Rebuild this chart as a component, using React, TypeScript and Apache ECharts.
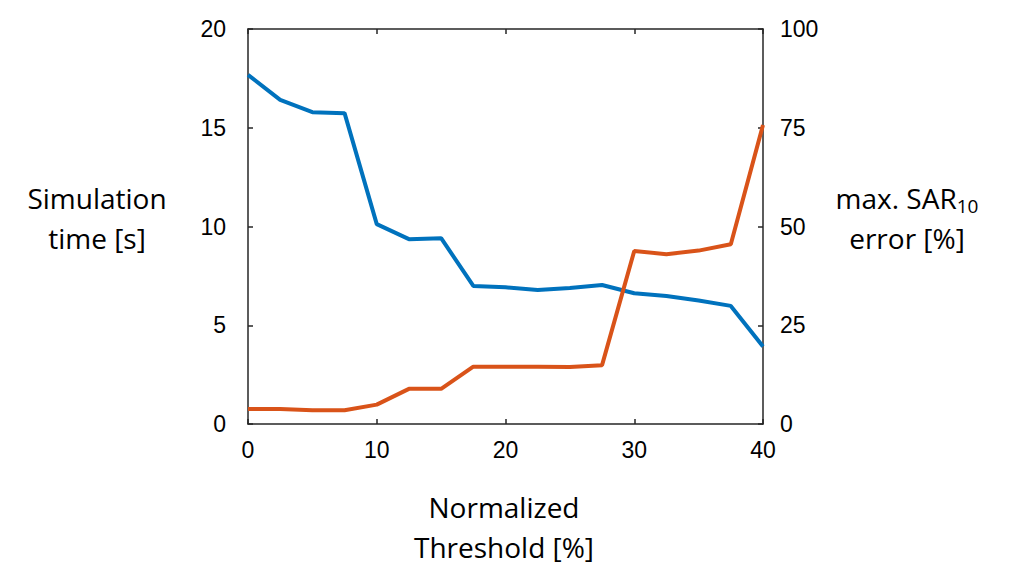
import React, { useEffect, useRef } from "react";
import * as echarts from "echarts";

const thresholds = [0, 2.5, 5, 7.5, 10, 12.5, 15, 17.5, 20, 22.5, 25, 27.5, 30, 32.5, 35, 37.5, 40];
const simTime = [17.68, 16.41, 15.79, 15.74, 10.12, 9.36, 9.41, 6.99, 6.92, 6.79, 6.89, 7.04, 6.62, 6.48, 6.25, 5.98, 3.92];
const sarError = [3.8, 3.8, 3.5, 3.5, 4.9, 8.9, 8.9, 14.5, 14.5, 14.5, 14.4, 14.9, 43.8, 43.0, 43.9, 45.5, 75.7];

export default function App() {
  const ref = useRef<HTMLDivElement>(null);
  useEffect(() => {
    const chart = echarts.init(ref.current!, null, { renderer: "svg" });
    const axisLine = { show: true, onZero: false, lineStyle: { color: "#262626", width: 1.5 } };
    const tickStyle = { show: true, inside: true, length: 5, lineStyle: { color: "#262626", width: 1.5 } };
    const labelFont = { color: "#000", fontSize: 23, fontFamily: "Liberation Sans" };
    const titleFont = "Open Sans";
    chart.setOption({
      animation: false,
      backgroundColor: "#fff",
      grid: { left: 248, right: 248, top: 29, bottom: 162 },
      xAxis: [
        {
          type: "value", min: 0, max: 40, interval: 10, position: "bottom",
          axisLine, axisTick: tickStyle, splitLine: { show: false },
          axisLabel: { ...labelFont, margin: 14 },
        },
        {
          type: "value", min: 0, max: 40, interval: 10, position: "top",
          axisLine, axisTick: tickStyle, splitLine: { show: false },
          axisLabel: { show: false },
        },
      ],
      yAxis: [
        {
          type: "value", min: 0, max: 20, interval: 5, position: "left",
          axisLine, axisTick: tickStyle, splitLine: { show: false },
          axisLabel: { ...labelFont, margin: 22 },
        },
        {
          type: "value", min: 0, max: 100, interval: 25, position: "right",
          axisLine, axisTick: tickStyle, splitLine: { show: false },
          axisLabel: { ...labelFont, margin: 17 },
        },
      ],
      series: [
        {
          type: "line", xAxisIndex: 0, yAxisIndex: 0,
          data: thresholds.map((x, i) => [x, simTime[i]]),
          showSymbol: false, lineStyle: { color: "#0072BD", width: 4 },
          itemStyle: { color: "#0072BD" },
        },
        {
          type: "line", xAxisIndex: 0, yAxisIndex: 1,
          data: thresholds.map((x, i) => [x, sarError[i]]),
          showSymbol: false, lineStyle: { color: "#D95319", width: 4 },
          itemStyle: { color: "#D95319" },
        },
      ],
      graphic: [
        {
          type: "text", x: 97, y: 218,
          style: {
            text: "Simulation\ntime [s]", fill: "#000", fontSize: 28, fontFamily: titleFont,
            align: "center", verticalAlign: "middle", lineHeight: 40,
          },
        },
        {
          type: "text", x: 907, y: 218,
          style: {
            text: "max. SAR{sub|10}\nerror [%]", fill: "#000", fontSize: 28, fontFamily: titleFont,
            align: "center", verticalAlign: "middle", lineHeight: 40,
            rich: { sub: { fontSize: 19, fontFamily: titleFont, fill: "#000", padding: [16, 0, 0, 0], lineHeight: 40 } },
          },
        },
        {
          type: "text", x: 504, y: 527,
          style: {
            text: "Normalized\nThreshold [%]", fill: "#000", fontSize: 28, fontFamily: titleFont,
            align: "center", verticalAlign: "middle", lineHeight: 40,
          },
        },
      ],
    });
    return () => chart.dispose();
  }, []);
  return <div ref={ref} style={{ width: 1011, height: 586, position: "absolute", left: 0, top: 0 }} />;
}
